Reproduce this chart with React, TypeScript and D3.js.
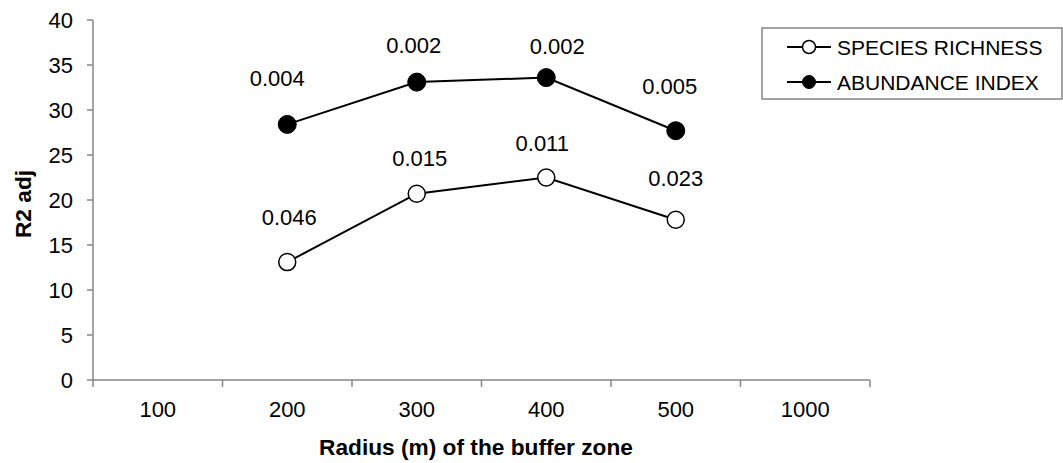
import React from "react";
import * as d3 from "d3";

const categories = ["100", "200", "300", "400", "500", "1000"];
const yTicks = [0, 5, 10, 15, 20, 25, 30, 35, 40];

const richnessX = ["200", "300", "400", "500"];
const richnessValues = [13.1, 20.7, 22.5, 17.8];
const richnessLabels = ["0.046", "0.015", "0.011", "0.023"];

const abundanceX = ["200", "300", "400", "500"];
const abundanceValues = [28.4, 33.1, 33.6, 27.7];
const abundanceLabels = ["0.004", "0.002", "0.002", "0.005"];

// label placement nudges (px) relative to each point
const richnessLabelNudge: [number, number][] = [[2, -37], [3, -28], [-4, -27], [0, -34]];
const abundanceLabelNudge: [number, number][] = [[-10, -38], [-3, -29], [11, -24], [-6, -37]];

const W = 1063;
const H = 463;
const FONT = "Arial, 'Liberation Sans', sans-serif";

export default function App() {
  const x = d3.scaleBand<string>().domain(categories).range([93, 870]).padding(0);
  const y = d3.scaleLinear().domain([0, 40]).range([380, 20]);
  const cx = (c: string) => (x(c) as number) + x.bandwidth() / 2;
  const line = d3
    .line<[string, number]>()
    .x((d) => cx(d[0]))
    .y((d) => y(d[1]));

  const rich: [string, number][] = richnessX.map((c, i) => [c, richnessValues[i]]);
  const abund: [string, number][] = abundanceX.map((c, i) => [c, abundanceValues[i]]);
  const axisColor = "#868686";
  const tickEdges = categories.map((c) => x(c) as number).concat([870]);

  return (
    <svg width={W} height={H} style={{ position: "absolute", left: 0, top: 0 }} fontFamily={FONT}>
      <rect width={W} height={H} fill="#fff" />
      {/* Y axis */}
      <line x1={93} x2={93} y1={y(40)} y2={y(0)} stroke={axisColor} strokeWidth={1.5} />
      {yTicks.map((t) => (
        <g key={t}>
          <line x1={87} x2={93} y1={y(t)} y2={y(t)} stroke={axisColor} strokeWidth={1.5} />
          <text x={73} y={y(t) + 8} textAnchor="end" fontSize={22} fill="#000">
            {t}
          </text>
        </g>
      ))}
      {/* X axis */}
      <line x1={93} x2={870} y1={y(0)} y2={y(0)} stroke={axisColor} strokeWidth={1.5} />
      {tickEdges.map((e, i) => (
        <line key={i} x1={e} x2={e} y1={y(0)} y2={y(0) + 7} stroke={axisColor} strokeWidth={1.5} />
      ))}
      {categories.map((c) => (
        <text key={c} x={cx(c)} y={417} textAnchor="middle" fontSize={22} fill="#000">
          {c}
        </text>
      ))}
      <text x={476} y={455} textAnchor="middle" fontSize={22.7} fontWeight="bold" fill="#000">
        Radius (m) of the buffer zone
      </text>
      <text
        transform={`translate(31,204) rotate(-90)`}
        textAnchor="middle"
        fontSize={22.7}
        fontWeight="bold"
        fill="#000"
      >
        R2 adj
      </text>

      {/* Series */}
      <path d={line(abund) || ""} fill="none" stroke="#000" strokeWidth={2} />
      <path d={line(rich) || ""} fill="none" stroke="#000" strokeWidth={2} />
      {abund.map((d, i) => (
        <circle key={"a" + i} cx={cx(d[0])} cy={y(d[1])} r={9} fill="#000" stroke="#000" strokeWidth={1} />
      ))}
      {rich.map((d, i) => (
        <circle key={"r" + i} cx={cx(d[0])} cy={y(d[1])} r={8.5} fill="#fff" stroke="#000" strokeWidth={1.5} />
      ))}
      {abund.map((d, i) => (
        <text
          key={"al" + i}
          x={cx(d[0]) + abundanceLabelNudge[i][0]}
          y={y(d[1]) + abundanceLabelNudge[i][1]}
          textAnchor="middle"
          fontSize={22}
          fill="#000"
        >
          {abundanceLabels[i]}
        </text>
      ))}
      {rich.map((d, i) => (
        <text
          key={"rl" + i}
          x={cx(d[0]) + richnessLabelNudge[i][0]}
          y={y(d[1]) + richnessLabelNudge[i][1]}
          textAnchor="middle"
          fontSize={22}
          fill="#000"
        >
          {richnessLabels[i]}
        </text>
      ))}

      {/* Legend */}
      <rect x={762} y={28} width={300} height={71} fill="#fff" stroke={axisColor} strokeWidth={1.5} />
      <line x1={787} x2={831} y1={47} y2={47} stroke="#000" strokeWidth={2} />
      <circle cx={809} cy={47} r={6.5} fill="#fff" stroke="#000" strokeWidth={1.5} />
      <text x={837} y={54.5} fontSize={21} fill="#000">
        SPECIES RICHNESS
      </text>
      <line x1={787} x2={831} y1={82} y2={82} stroke="#000" strokeWidth={2} />
      <circle cx={809} cy={82} r={6.5} fill="#000" stroke="#000" strokeWidth={1} />
      <text x={837} y={89.5} fontSize={21} fill="#000">
        ABUNDANCE INDEX
      </text>
    </svg>
  );
}
